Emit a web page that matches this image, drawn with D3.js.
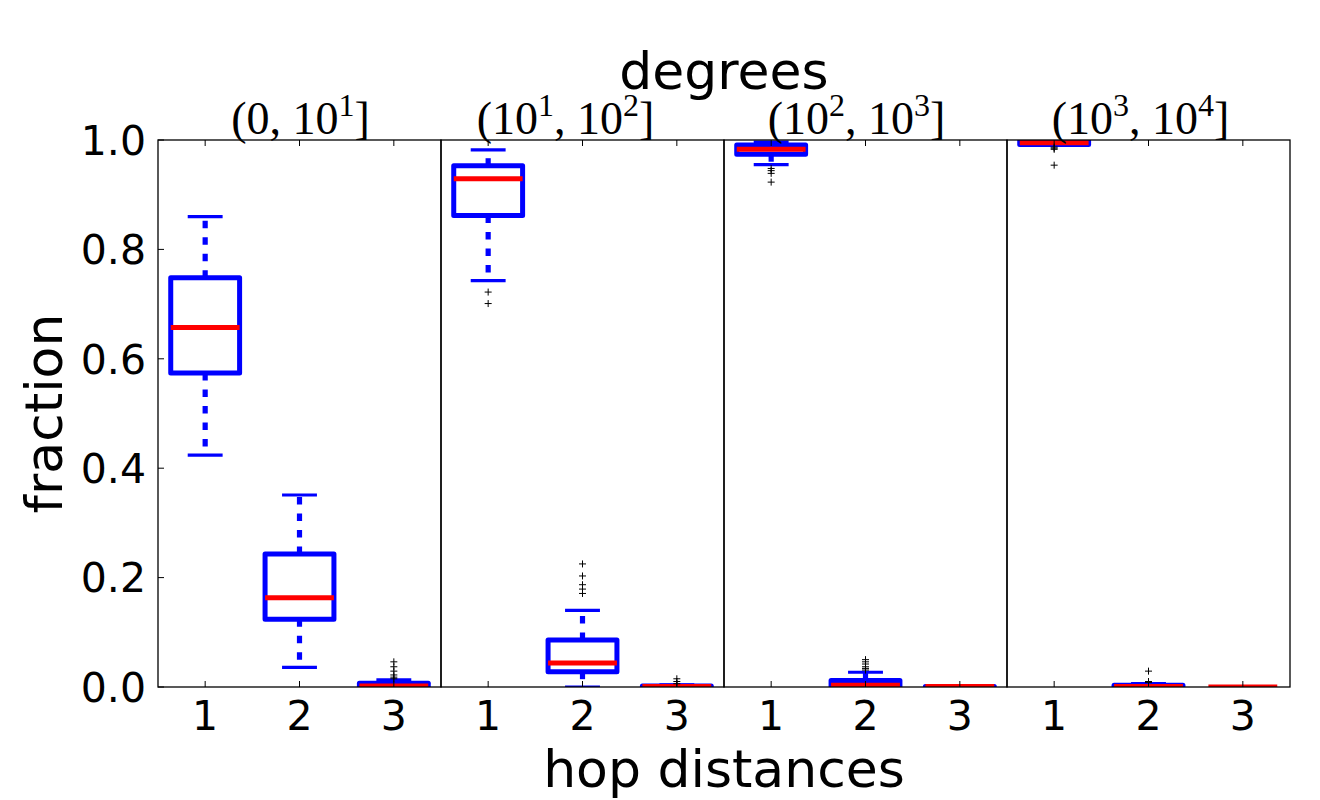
<!DOCTYPE html>
<html><head><meta charset="utf-8">
<script src="https://cdn.jsdelivr.net/npm/d3@7"></script>
<style>body{margin:0;background:#fff}svg{display:block}</style>
</head><body>
<div id="chart"></div>
<script>
// ---- data ----
const panelLow    = ["0", "10", "10", "10"];
const panelLowExp = ["",  "1",  "2",  "3"];
const panelHighExp= ["1", "2",  "3",  "4"];
const hops = [1, 2, 3];
const yTicks = [0.0, 0.2, 0.4, 0.6, 0.8, 1.0];
// per panel, per hop distance
const whiskerLow  = [[0.424, 0.036, 0.0], [0.743, 0.0, 0.0], [0.955, 0.0, 0.0], [0.990, 0.0, 0.0]];
const q1          = [[0.574, 0.124, 0.0], [0.862, 0.028, 0.0], [0.974, 0.0, 0.0], [0.992, 0.0, 0.0]];
const median      = [[0.657, 0.163, 0.002], [0.929, 0.044, 0.001], [0.983, 0.003, 0.001], [0.995, 0.001, 0.0]];
const q3          = [[0.748, 0.243, 0.007], [0.953, 0.086, 0.002], [0.991, 0.012, 0.001], [0.999, 0.003, 0.0]];
const whiskerHigh = [[0.860, 0.351, 0.013], [0.982, 0.140, 0.004], [0.996, 0.027, 0.002], [1.000, 0.006, 0.0]];
const outliers = [
  [[], [], [0.015, 0.018, 0.022, 0.029, 0.037, 0.046]],
  [[0.722, 0.701], [0.225, 0.203, 0.187, 0.179, 0.171], [0.006, 0.010, 0.015]],
  [[0.948, 0.944, 0.939, 0.923], [0.031, 0.034, 0.037, 0.042, 0.046, 0.050], []],
  [[0.987, 0.985, 0.983, 0.954], [0.008, 0.010, 0.029], []]
];
const xLabel = "hop distances", yLabel = "fraction", supTitle = "degrees";

// ---- layout ----
const W = 1320, H = 800;
const L = 158, R = 1290, T = 140, B = 687;
const pw = (R - L) / panelLow.length;
const titleShift = [1, -17, -9, -8];
const boxW = 0.73, capW = 0.37;

const svg = d3.select("#chart").append("svg").attr("width", W).attr("height", H);
const y = d3.scaleLinear().domain([0, 1]).range([B, T]);
const blue = "#0000ff", red = "#ff0000";

panelLow.forEach((lo, p) => {
  const x0 = L + p * pw, x1 = x0 + pw;
  const x = d3.scaleLinear().domain([0.5, 3.5]).range([x0, x1]);
  const clipId = "clip" + p;
  svg.append("clipPath").attr("id", clipId).append("rect")
    .attr("x", x0).attr("y", T).attr("width", pw).attr("height", B - T);
  const g = svg.append("g").attr("clip-path", `url(#${clipId})`);

  hops.forEach((h, i) => {
    const cx = x(h);
    const bw = x(h + boxW / 2) - cx, cw = x(h + capW / 2) - cx;
    // whiskers
    g.append("line").attr("x1", cx).attr("x2", cx).attr("y1", y(q3[p][i])).attr("y2", y(whiskerHigh[p][i]))
      .attr("stroke", blue).attr("stroke-width", 5.2).attr("stroke-dasharray", "7.5,9");
    g.append("line").attr("x1", cx).attr("x2", cx).attr("y1", y(q1[p][i])).attr("y2", y(whiskerLow[p][i]))
      .attr("stroke", blue).attr("stroke-width", 5.2).attr("stroke-dasharray", "7.5,9");
    // caps
    [whiskerHigh[p][i], whiskerLow[p][i]].forEach(v => {
      g.append("line").attr("x1", cx - cw).attr("x2", cx + cw).attr("y1", y(v)).attr("y2", y(v))
        .attr("stroke", blue).attr("stroke-width", 3.2);
    });
    // box
    g.append("rect").attr("x", cx - bw).attr("width", 2 * bw)
      .attr("y", y(q3[p][i])).attr("height", Math.max(0, y(q1[p][i]) - y(q3[p][i])))
      .attr("fill", "none").attr("stroke", blue).attr("stroke-width", 5).attr("stroke-linejoin", "round");
    // median
    g.append("line").attr("x1", cx - bw).attr("x2", cx + bw).attr("y1", y(median[p][i])).attr("y2", y(median[p][i]))
      .attr("stroke", red).attr("stroke-width", 5);
    // outliers
    outliers[p][i].forEach(v => {
      const yy = y(v);
      g.append("path").attr("d", `M${cx - 3.5},${yy}H${cx + 3.5}M${cx},${yy - 3.5}V${yy + 3.5}`)
        .attr("stroke", "#000").attr("stroke-width", 1).attr("fill", "none");
    });
  });

  // frame
  svg.append("rect").attr("x", x0).attr("y", T).attr("width", pw).attr("height", B - T)
    .attr("fill", "none").attr("stroke", "#000").attr("stroke-width", 1.3);

  // x ticks (top & bottom, inward) + labels
  hops.forEach(h => {
    svg.append("line").attr("x1", x(h)).attr("x2", x(h)).attr("y1", B).attr("y2", B - 6).attr("stroke", "#000").attr("stroke-width", 1);
    svg.append("line").attr("x1", x(h)).attr("x2", x(h)).attr("y1", T).attr("y2", T + 6).attr("stroke", "#000").attr("stroke-width", 1);
    svg.append("text").attr("x", x(h)).attr("y", 730).attr("text-anchor", "middle")
      .attr("font-family", "DejaVu Sans").attr("font-size", 41).text(h);
  });

  // panel title (math style)
  const t = svg.append("text").attr("x", (x0 + x1) / 2 + titleShift[p]).attr("y", 134).attr("text-anchor", "middle")
    .attr("font-family", "Liberation Serif, DejaVu Serif, serif").attr("font-size", 46);
  t.append("tspan").text("(" + lo);
  if (panelLowExp[p]) t.append("tspan").attr("dy", -18).attr("font-size", 32).text(panelLowExp[p]);
  t.append("tspan").attr("dy", panelLowExp[p] ? 18 : 0).text(", 10");
  t.append("tspan").attr("dy", -18).attr("font-size", 32).text(panelHighExp[p]);
  t.append("tspan").attr("dy", 18).text("]");
});

// y ticks on first panel
yTicks.forEach(v => {
  svg.append("line").attr("x1", L).attr("x2", L + 6).attr("y1", y(v)).attr("y2", y(v)).attr("stroke", "#000").attr("stroke-width", 1);
  svg.append("text").attr("x", 146).attr("y", y(v)).attr("dy", "0.36em").attr("text-anchor", "end")
    .attr("font-family", "DejaVu Sans").attr("font-size", 41).text(d3.format(".1f")(v));
});

// labels
svg.append("text").attr("x", (L + R) / 2).attr("y", 787).attr("text-anchor", "middle")
  .attr("font-family", "DejaVu Sans").attr("font-size", 52).text(xLabel);
svg.append("text").attr("transform", `translate(62,${(T + B) / 2}) rotate(-90)`).attr("text-anchor", "middle")
  .attr("font-family", "DejaVu Sans").attr("font-size", 52).text(yLabel);
svg.append("text").attr("x", (L + R) / 2).attr("y", 89).attr("text-anchor", "middle")
  .attr("font-family", "DejaVu Sans").attr("font-size", 52).text(supTitle);
</script>
</body></html>
